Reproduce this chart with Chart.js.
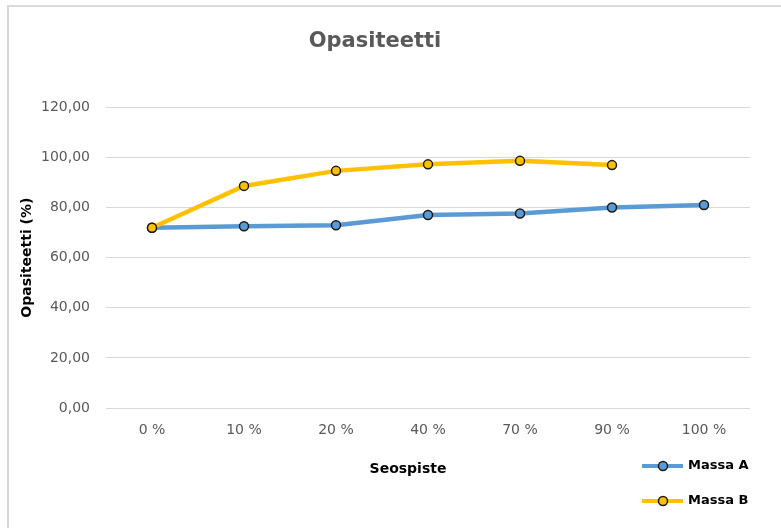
<!DOCTYPE html>
<html>
<head>
<meta charset="utf-8">
<title>Opasiteetti</title>
<script src="https://cdn.jsdelivr.net/npm/chart.js@4/dist/chart.umd.min.js"></script>
<style>
  html, body { margin: 0; padding: 0; background: #fff; overflow: hidden; }
  #wrap { width: 816px; height: 528px; }
</style>
</head>
<body>
<div id="wrap"><canvas id="opasiteetti" width="816" height="528"></canvas></div>
<script>
// Seospisteet ja mitatut opasiteetit
const seospisteet = ['0 %', '10 %', '20 %', '40 %', '70 %', '90 %', '100 %'];
const massaA = [71.9, 72.5, 72.9, 77.0, 77.6, 80.0, 81.0];
const massaB = [71.9, 88.6, 94.6, 97.2, 98.6, 96.9, null];
const yMin = 0, yMax = 120, yStep = 20;

const FONT = 'DejaVu Sans';
const GREY = '#595959';

// chart frame, x-axis caption and the legend at the bottom right
const extras = {
  id: 'extras',
  beforeDraw(chart) {
    const c = chart.ctx;
    c.save();
    c.fillStyle = '#fff';
    c.fillRect(0, 0, chart.width, chart.height);
    c.strokeStyle = '#d9d9d9';
    c.lineWidth = 2;
    c.beginPath();
    c.moveTo(8, chart.height + 2);
    c.lineTo(8, 6);
    c.lineTo(chart.width + 2, 6);
    c.stroke();
    c.restore();
  },
  afterDraw(chart) {
    const c = chart.ctx;
    const area = chart.chartArea;
    c.save();
    c.fillStyle = '#000';
    c.font = 'bold 14px "' + FONT + '"';
    c.textAlign = 'center';
    c.textBaseline = 'middle';
    c.fillText('Seospiste', chart.width / 2, 469);

    c.font = 'bold 13px "' + FONT + '"';
    c.textAlign = 'left';
    chart.data.datasets.forEach((ds, i) => {
      const y = 466 + i * 35;
      const x0 = area.right - 108;
      c.strokeStyle = ds.borderColor;
      c.lineWidth = 4;
      c.beginPath();
      c.moveTo(x0, y);
      c.lineTo(x0 + 41, y);
      c.stroke();
      c.beginPath();
      c.arc(x0 + 21, y, 4.5, 0, Math.PI * 2);
      c.fillStyle = ds.pointBackgroundColor;
      c.fill();
      c.lineWidth = 1.5;
      c.strokeStyle = ds.pointBorderColor;
      c.stroke();
      c.fillStyle = '#000';
      c.fillText(ds.label, x0 + 46, y);
    });
    c.restore();
  }
};

new Chart(document.getElementById('opasiteetti'), {
  type: 'line',
  data: {
    labels: seospisteet,
    datasets: [{
      label: 'Massa A',
      data: massaA,
      borderColor: '#5b9bd5',
      backgroundColor: '#5b9bd5',
      pointBackgroundColor: '#5b9bd5',
      pointBorderColor: '#1a1a1a',
      borderWidth: 4.5,
      pointRadius: 4.5,
      pointBorderWidth: 1.5,
      tension: 0,
      order: 1
    }, {
      label: 'Massa B',
      data: massaB,
      borderColor: '#ffc000',
      backgroundColor: '#ffc000',
      pointBackgroundColor: '#ffc000',
      pointBorderColor: '#1a1a1a',
      borderWidth: 4.5,
      pointRadius: 4.5,
      pointBorderWidth: 1.5,
      tension: 0,
      order: 0
    }]
  },
  options: {
    responsive: false,
    animation: false,
    layout: { padding: { left: 0, right: 66, top: 0, bottom: 0 } },
    plugins: {
      legend: { display: false },
      tooltip: { enabled: false },
      title: {
        display: true,
        text: 'Opasiteetti',
        color: GREY,
        font: { family: FONT, size: 21, weight: 'bold', lineHeight: 1.2 },
        padding: { top: 29, bottom: 53 }
      }
    },
    scales: {
      x: {
        offset: true,
        grid: { display: false, drawTicks: false },
        border: { display: false },
        ticks: { color: GREY, font: { family: FONT, size: 14 }, padding: 14 },
        afterFit(scale) { scale.height = 120; }
      },
      y: {
        min: yMin,
        max: yMax,
        grid: { color: '#d9d9d9', lineWidth: 1, drawTicks: false },
        border: { display: false },
        ticks: {
          stepSize: yStep,
          color: GREY,
          font: { family: FONT, size: 14 },
          padding: 16,
          callback: v => v.toFixed(2).replace('.', ',')
        },
        title: {
          display: true,
          text: 'Opasiteetti (%)',
          color: '#000',
          font: { family: FONT, size: 14, weight: 'bold', lineHeight: 1.2 },
          padding: { top: 19, bottom: 0 }
        },
        afterFit(scale) { scale.width = 106; }
      }
    }
  },
  plugins: [extras]
});
</script>
</body>
</html>
